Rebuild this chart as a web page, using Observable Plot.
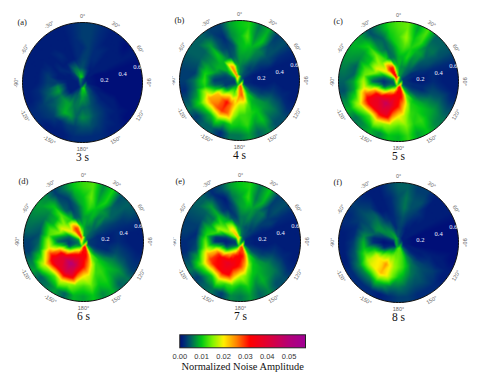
<!DOCTYPE html>
<html><head><meta charset="utf-8">
<script src="https://cdn.jsdelivr.net/npm/d3@7"></script>
<script src="https://cdn.jsdelivr.net/npm/@observablehq/plot@0.6"></script>
<style>html,body{margin:0;padding:0;background:#fff}#c{position:relative;width:479px;height:381px;overflow:hidden}#c svg{position:absolute;overflow:visible;background:transparent}</style>
</head><body><div id="c"></div>
<script>
// amplitude in thousandths; rows = radial rings centred 0.05 ... 0.55; columns = azimuth 0,10,...,350 degrees
const panelA=[
[9,7,4,2,1,1,1,1,1,1,1,2,3,4,5,7,11,12,11,7,4,2,1,1,1,1,1,1,1,2,2,3,5,8,11,11],
[4,3,2,1,1,1,0,0,0,0,0,1,1,2,3,4,6,7,8,6,5,5,3,1,1,1,1,1,1,1,1,2,4,6,6,4],
[3,3,2,2,1,1,1,0,0,0,0,0,1,1,2,3,4,5,5,6,6,8,8,7,6,8,7,3,1,1,2,1,1,1,1,2],
[2,3,2,2,1,1,1,0,0,0,0,0,1,1,2,3,4,6,7,5,8,9,7,5,4,5,4,3,3,2,1,1,2,1,1,2],
[3,3,2,1,1,1,1,0,0,0,0,0,0,1,1,2,3,4,4,3,3,2,3,3,3,2,2,1,1,1,1,1,1,1,1,2],
[3,3,2,1,1,0,1,0,0,0,0,0,0,0,1,1,2,2,2,2,1,1,1,2,2,1,1,1,1,1,1,1,1,1,1,2]];
const panelB=[
[6,6,5,4,4,3,3,2,2,2,2,2,3,4,8,16,26,29,26,18,10,7,5,4,3,3,3,3,4,5,8,12,20,26,24,10],
[7,6,5,4,3,3,2,1,1,1,1,2,3,4,7,11,18,28,26,17,14,16,15,9,6,3,3,3,3,4,6,9,14,26,22,9],
[8,8,8,6,5,3,2,1,1,1,1,2,3,5,8,9,13,17,17,21,27,32,28,24,22,10,5,3,5,8,9,9,9,7,4,5],
[9,10,9,7,6,4,3,1,1,1,2,3,5,7,8,10,11,12,12,17,27,30,28,26,24,18,11,12,11,9,7,7,10,4,3,4],
[9,13,7,10,4,4,2,1,1,1,1,2,4,6,6,10,8,12,10,11,9,13,9,10,12,8,6,6,3,4,5,5,8,4,2,7],
[10,11,6,9,3,4,2,1,1,1,1,1,2,4,4,7,5,8,6,6,2,5,5,3,6,4,2,3,3,4,5,5,5,3,3,8]];
const panelC=[
[8,8,7,6,5,4,3,3,3,3,3,3,4,5,8,18,30,34,30,22,14,9,7,5,5,5,5,5,6,8,11,15,24,32,34,16],
[9,7,7,6,5,4,2,2,1,1,2,2,3,5,8,14,26,33,34,34,33,30,27,18,11,5,3,2,4,7,14,20,28,32,30,12],
[9,9,11,7,7,4,3,2,1,1,2,2,4,6,9,11,17,24,31,35,42,46,42,38,33,24,12,5,8,15,19,17,14,12,6,6],
[11,13,11,9,8,5,4,2,2,2,3,4,6,8,10,11,12,17,20,26,38,38,36,36,34,27,19,17,14,13,10,10,14,7,5,7],
[12,16,10,12,6,6,4,2,1,1,2,4,6,8,9,12,11,15,13,15,16,19,13,15,18,12,8,8,5,5,7,8,11,6,5,10],
[13,14,8,13,5,5,4,2,1,1,1,2,4,6,7,10,8,12,9,10,7,9,7,6,9,7,4,5,6,7,8,9,8,4,7,11]];
const panelD=[
[9,8,7,6,5,5,4,4,3,3,3,3,4,6,10,22,32,34,30,22,14,9,7,6,6,6,6,6,7,9,12,16,24,30,30,18],
[9,7,6,6,5,4,3,2,2,2,2,2,3,5,8,14,26,32,34,34,34,32,28,20,12,5,3,3,4,6,14,20,26,30,26,12],
[8,8,9,6,7,4,3,2,1,1,2,2,4,7,10,12,18,26,32,38,46,50,46,40,35,25,12,5,8,15,19,16,12,11,5,5],
[9,12,10,8,7,5,3,2,2,2,3,4,6,8,10,12,12,18,20,27,40,42,38,38,36,29,19,17,13,13,9,9,13,5,3,5],
[10,14,8,11,5,5,3,2,1,1,2,3,5,8,8,11,10,14,12,14,16,19,13,15,19,12,7,5,4,5,6,7,10,4,3,8],
[12,13,7,11,4,5,4,2,1,1,1,2,3,6,5,9,7,10,8,9,5,8,6,5,8,6,3,3,5,6,7,8,7,3,6,10]];
const panelE=[
[7,6,5,4,4,3,3,2,2,2,2,2,3,5,9,18,28,30,27,20,12,8,5,4,3,3,3,3,4,6,9,13,20,24,20,12],
[6,5,4,4,3,3,2,1,1,1,1,2,3,4,7,12,24,31,33,32,31,28,22,15,8,4,2,1,2,5,12,16,20,20,14,7],
[6,6,7,5,5,3,2,1,1,1,1,2,3,5,8,10,15,24,30,33,36,38,36,33,30,22,10,2,3,12,16,13,10,8,4,3],
[8,9,8,6,6,3,3,1,1,1,2,3,5,7,8,9,10,14,17,23,33,34,32,31,29,23,16,14,11,10,7,6,9,3,2,4],
[8,12,6,9,3,4,2,1,1,1,1,2,4,6,7,9,7,11,9,12,12,16,10,12,14,9,4,3,2,3,4,5,8,3,1,6],
[10,11,6,10,3,4,2,1,1,1,1,1,2,4,4,7,5,8,6,7,3,6,5,3,6,4,2,2,3,3,4,5,5,2,4,8]];
const panelF=[
[4,3,3,2,1,1,1,1,1,1,1,1,2,3,5,9,12,13,13,11,9,6,3,2,1,1,1,1,2,3,5,7,8,9,8,5],
[3,3,2,1,1,1,1,0,0,0,0,1,1,2,4,7,11,13,14,14,15,14,13,11,6,2,1,0,1,3,6,7,7,6,4,2],
[3,4,3,2,1,1,1,0,0,0,0,1,1,2,4,6,9,12,14,16,20,25,21,20,18,12,7,2,2,5,7,7,5,3,2,2],
[4,6,4,3,2,1,1,0,0,0,0,1,2,3,4,5,6,8,10,14,20,23,20,19,17,13,10,9,7,5,4,5,5,1,1,2],
[4,6,4,4,1,1,1,0,0,0,0,1,1,3,3,4,4,5,6,6,8,10,7,7,7,5,4,3,2,2,3,4,3,1,1,2],
[5,5,3,3,1,1,1,0,0,0,0,0,1,1,2,2,2,3,3,2,1,2,2,2,2,1,1,1,1,2,2,3,2,1,1,3]];
const letters=["(a)","(b)","(c)","(d)","(e)","(f)"];
const titles=["3 s","4 s","5 s","6 s","7 s","8 s"];
const panels=[panelA,panelB,panelC,panelD,panelE,panelF];
const centersX=[82,239,397.5,83,239.5,397.5];
const centersY=[82,80,81,241,241,241.5];
const azTicks=[0,30,60,90,120,150,180,-150,-120,-90,-60,-30];
const radialLabels=["0.2","0.4","0.6"];
const radialAz=[83,78,74];
const radialR=[0.22,0.41,0.57];
const ringCentres=[0.05,0.15,0.25,0.35,0.45,0.55];
const colorDomain=[0,0.002,0.005,0.01,0.015,0.02,0.026,0.032,0.04,0.05,0.0575];
const colorRange=["#000f78","#002a78","#006060","#00c814","#80f500","#fff000","#ff8200","#ff0000","#e10032","#b40078","#a00096"];
const colorbarTicks=[0,0.01,0.02,0.03,0.04,0.05];
const color={type:"linear",domain:colorDomain,range:colorRange,clamp:true};
const SERIF="'Liberation Serif','Times New Roman',serif",SANS="'Liberation Sans',Arial,sans-serif";
const rad=d=>d*Math.PI/180;
const px=(r,az)=>r*Math.sin(rad(az)), py=(r,az)=>r*Math.cos(rad(az));
const root=document.getElementById("c");
const circleAz=d3.range(0,361,3);

d3.range(panels.length-1,-1,-1).forEach(p=>{
  const rows=panels[p];
  const pts=[];
  rows.forEach((row,i)=>row.forEach((v,j)=>{
    pts.push({r:ringCentres[i],az:j*10,v:v/1000});
    if(i===rows.length-1) pts.push({r:0.61,az:j*10,v:v/1000});
  }));
  const plot=Plot.plot({
    width:160,height:170,margin:0,marginBottom:10,
    x:{domain:[-0.8,0.8],axis:null},y:{domain:[-0.8,0.8],axis:null},
    color,
    marks:[
      Plot.raster(pts,{x:d=>px(d.r,d.az),y:d=>py(d.r,d.az),fill:"v",x1:-0.62,x2:0.62,y1:-0.62,y2:0.62,pixelSize:1,interpolate:"barycentric",imageFilter:"blur(0.4px)"}),
      Plot.line(circleAz,{x:a=>px(0.75,a),y:a=>py(0.75,a),stroke:"#fff",strokeWidth:30}),
      Plot.line(circleAz,{x:a=>px(0.6,a),y:a=>py(0.6,a),stroke:"#111",strokeWidth:1}),
      Plot.text(azTicks,{x:d=>px(0.665,d),y:d=>py(0.665,d),text:d=>d+"°",rotate:d=>Math.abs(d)<=90?d:(d>0?d-180:d+180),fontSize:5.5,fill:"#666",fontFamily:SANS}),
      Plot.text(radialLabels,{x:(d,i)=>px(radialR[i],radialAz[i]),y:(d,i)=>py(radialR[i],radialAz[i]),text:d=>d,fill:"#eef",fontSize:6.5,fontFamily:SERIF}),
      Plot.text([letters[p]],{frameAnchor:"top-left",dx:15,dy:16,fontSize:8.5,fontFamily:SERIF,fill:"#222",textAnchor:"start"}),
      Plot.text([titles[p]],{frameAnchor:"bottom",dy:-2,fontSize:11.5,fontFamily:SERIF,fill:"#111"})
    ]
  });
  plot.style.left=(centersX[p]-80)+"px";
  plot.style.top=(centersY[p]-80)+"px";
  root.appendChild(plot);
});

const bar=Plot.plot({
  width:160,height:56,marginLeft:19.3,marginRight:15,marginTop:9.3,marginBottom:33.7,
  x:{domain:[0,0.0575]},y:{axis:null,domain:[0,1]},color,
  marks:[
    Plot.raster({x1:0,x2:0.0575,y1:0,y2:1,fill:(x,y)=>x,pixelSize:1}),
    Plot.frame({stroke:"#222",strokeWidth:1}),
    Plot.axisX({ticks:colorbarTicks,tickFormat:".2f",tickSize:0,tickPadding:6,fontSize:7.5,fill:"#333",fontFamily:SANS,label:null}),
    Plot.text(["Normalized Noise Amplitude"],{frameAnchor:"bottom",dy:22,fontSize:10.4,fontFamily:SERIF,fill:"#111"})
  ]
});
bar.style.left="160px";bar.style.top="325px";
root.appendChild(bar);
</script></body></html>
